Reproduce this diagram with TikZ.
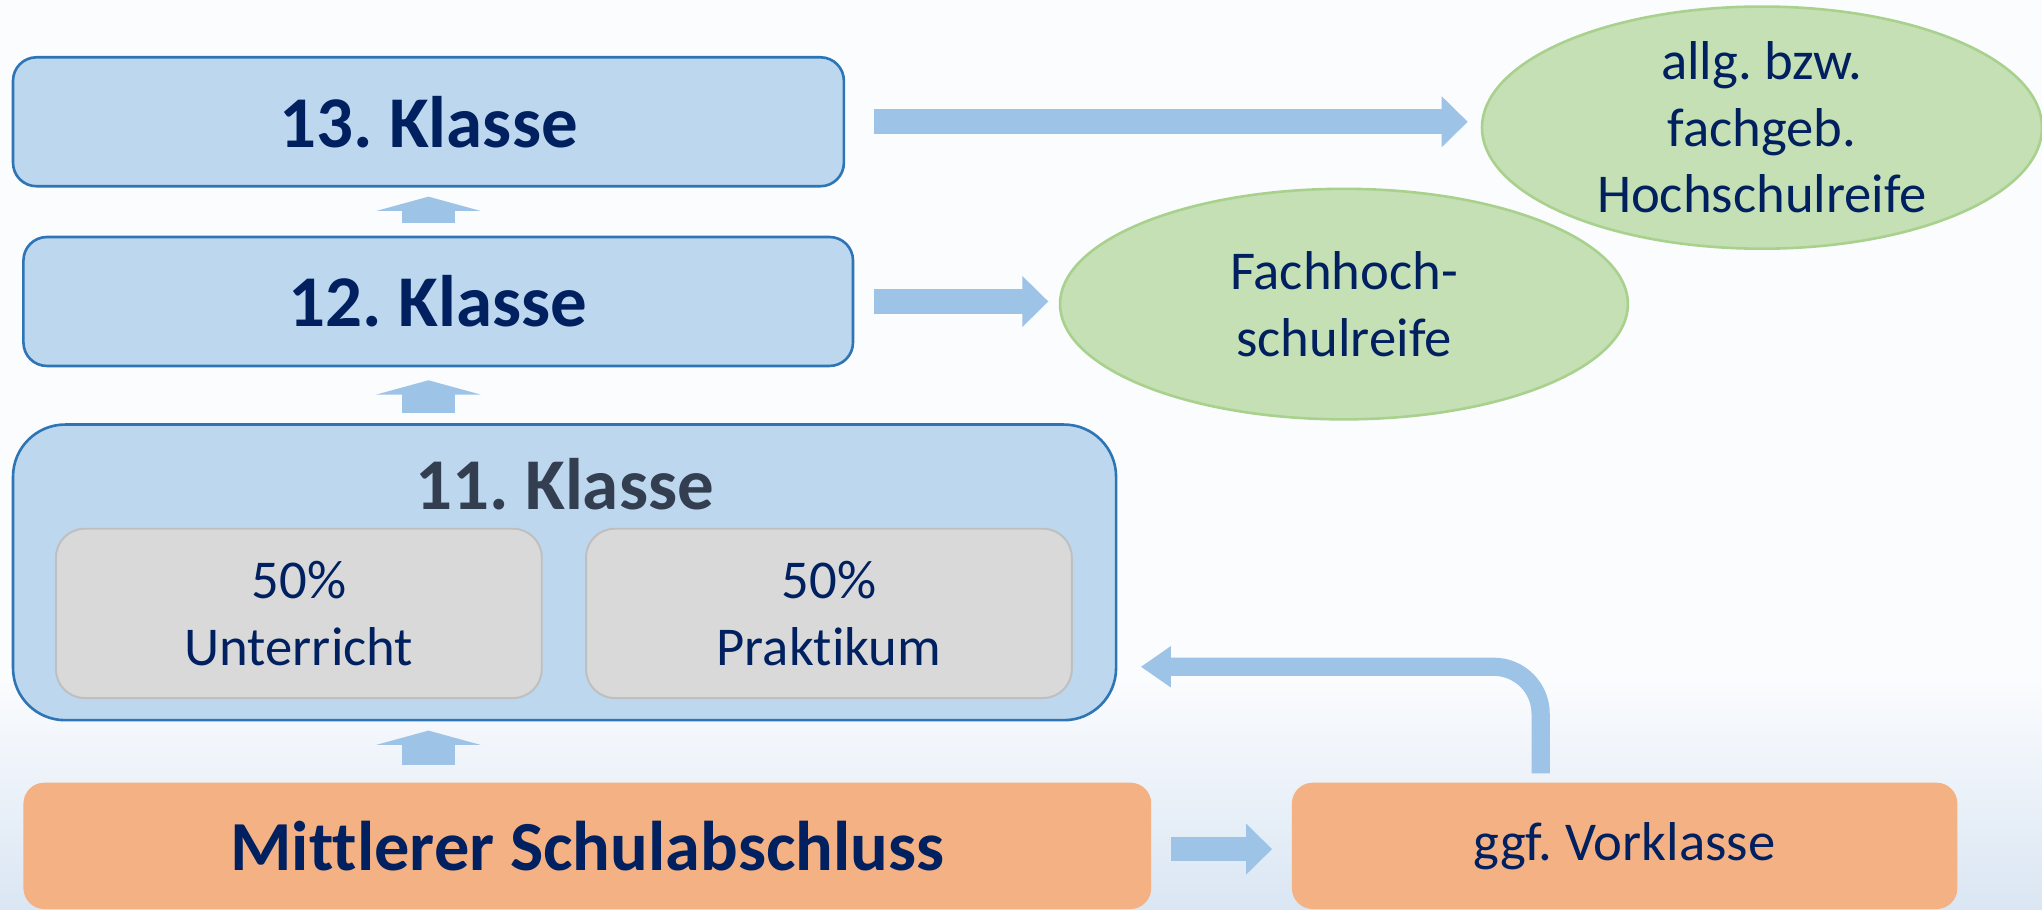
\documentclass[tikz,border=0pt]{standalone}
\usepackage{fontspec}
\setmainfont{Carlito}[RawFeature={-liga;-clig}]
\frenchspacing
\usetikzlibrary{arrows.meta,shapes.geometric,calc}
\definecolor{boxblue}{HTML}{BDD7EE}
\definecolor{boxedge}{HTML}{2E75B6}
\definecolor{navy}{HTML}{002060}
\definecolor{slate}{HTML}{333F50}
\definecolor{arrowblue}{HTML}{9DC3E6}
\definecolor{greyfill}{HTML}{D9D9D9}
\definecolor{greyedge}{HTML}{BFBFBF}
\definecolor{greenfill}{HTML}{C5E0B4}
\definecolor{greenedge}{HTML}{A9D18E}
\definecolor{orangefill}{HTML}{F4B183}
\definecolor{bgtop}{HTML}{FBFCFE}
\definecolor{bgbot}{HTML}{DAE6F3}
\begin{document}
\frenchspacing
\begin{tikzpicture}[x=1pt,y=-1pt,
  bigfont/.style={font=\fontsize{56}{60}\selectfont\bfseries},
  smallfont/.style={font=\fontsize{42}{51}\selectfont},
  klasse/.style={draw=boxedge, line width=2pt, fill=boxblue, rounded corners=18pt,
    inner sep=0pt, text=navy, bigfont},
  part/.style={draw=greyedge, line width=1.5pt, fill=greyfill, rounded corners=22pt,
    inner sep=0pt, text=navy, smallfont, align=center,
    minimum width=373pt, minimum height=130pt},
  goal/.style={ellipse, draw=greenedge, line width=2pt, fill=greenfill, inner sep=0pt,
    text=navy, smallfont, align=center},
  start/.style={fill=orangefill, rounded corners=16pt, inner sep=0pt, text=navy,
    minimum height=97pt},
  uparrow/.style={draw=arrowblue, line width=41pt, -{Triangle[width=80pt,length=11pt]}},
  rarrow/.style={draw=arrowblue, line width=19pt, -{Triangle[width=38pt,length=20pt]}},
  bentarrow/.style={draw=arrowblue, line width=14pt, rounded corners=36pt,
    -{Triangle[width=30pt,length=23pt]}}
]
\useasboundingbox (0,0) rectangle (1568,698);
\fill[bgtop] (0,0) rectangle (1568,698);
\shade[top color=bgtop, bottom color=bgbot] (0,520) rectangle (1568,698);

% ellipses
\node[goal, minimum width=430pt, minimum height=170pt] (e1) at (1353,98)
  {allg. bzw.\\fachgeb.\\Hochschulreife};
\node[goal, minimum width=436pt, minimum height=177pt] (e2) at (1032,233.5)
  {Fachhoch-\\schulreife};

% class boxes
\node[klasse, minimum width=638pt, minimum height=99pt] (n13) at (329,93.5) {13. Klasse};
\node[klasse, minimum width=637pt, minimum height=99pt] (n12) at (336.5,231.5) {12. Klasse};
\node[klasse, rounded corners=40pt, minimum width=847pt, minimum height=227pt] (n11) at (433.5,439.5) {};
\node[bigfont, text=slate, inner sep=0pt] (t11) at (433.5,372) {11. Klasse};
\node[part] (u1) at (229.5,471) {50\%\\Unterricht};
\node[part] (u2) at (636.5,471) {50\%\\Praktikum};

% bottom boxes
\node[start, font=\fontsize{54}{60}\selectfont\bfseries, minimum width=866pt] (mb) at (451,649.5) {Mittlerer Schulabschluss};
\node[start, smallfont, minimum width=511pt] (vk) at (1247.5,649.5) {ggf. Vorklasse};

% up arrows
\draw[uparrow] ($(n13.south |- n12.north)+(0,-10)$) -- ($(n13.south)+(0,7)$);
\draw[uparrow] ($(n13.south |- n11.north)+(0,-8)$) -- ($(n13.south |- n12.south)+(0,10)$);
\draw[uparrow] ($(n13.south |- mb.north)+(0,-13)$) -- ($(n13.south |- n11.south)+(0,7)$);

% right arrows
\draw[rarrow] ($(n13.east)+(22,0)$) -- ($(e1.west |- n13.east)+(-10,0)$);
\draw[rarrow] ($(n12.east)+(15,0)$) -- ($(e2.west |- n12.east)+(-8,0)$);
\draw[rarrow] ($(mb.east)+(15,2.5)$) -- ($(vk.west)+(-15,2.5)$);

% bent arrow
\draw[bentarrow] ($(vk.north)+(-64.5,-7)$) |- ($(n11.east)+(18,72.5)$);
\end{tikzpicture}
\end{document}
